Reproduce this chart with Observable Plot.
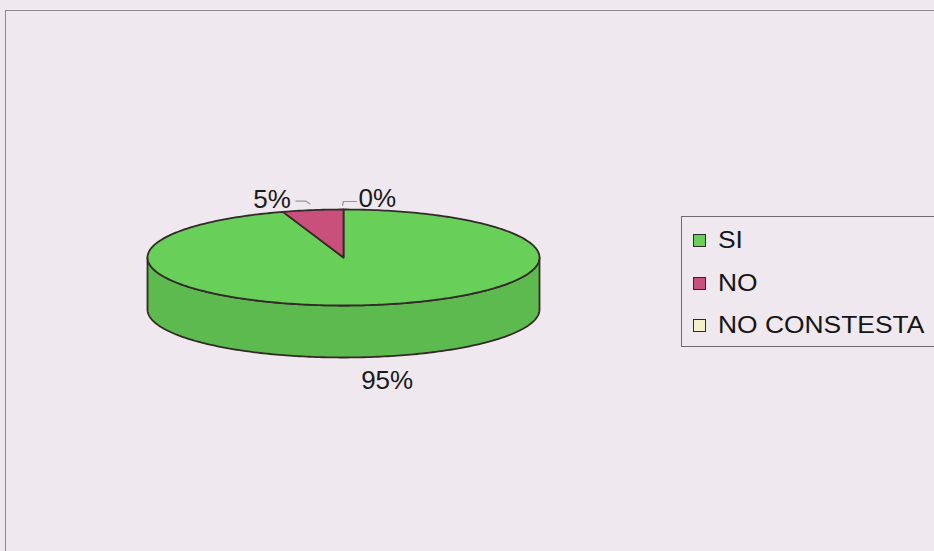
<!DOCTYPE html>
<html>
<head>
<meta charset="utf-8">
<script src="https://cdn.jsdelivr.net/npm/d3@7"></script>
<script src="https://cdn.jsdelivr.net/npm/@observablehq/plot@0.6"></script>
<style>
  html, body { margin: 0; padding: 0; background: #efe8ef; width: 934px; height: 551px; overflow: hidden; }
  body { position: relative; font-family: "Liberation Sans", Arial, sans-serif; }
  #frame { position: absolute; left: 5px; top: 10px; width: 940px; height: 560px;
           border-top: 1.5px solid #8c8890; border-left: 1.5px solid #8c8890; }
  #chart { position: absolute; left: 0; top: 0; }
  #legend { position: absolute; left: 681px; top: 216px; width: 270px; height: 131px;
            border: 1px solid #6e6a70; box-sizing: border-box; }
  .item { position: absolute; left: 11px; height: 30px; font-size: 24px; color: #151515; white-space: nowrap; }
  .sw { position: absolute; left: 0; width: 11px; height: 11px; border: 1.3px solid #2a2a2a; top: 9px; }
  .lab { position: absolute; left: 25px; top: 0; line-height: 30px; transform: scaleX(1.1); transform-origin: left center; }
</style>
</head>
<body>
<div id="frame"></div>
<div id="chart"></div>
<div id="legend"></div>
<script>
// ---- data ----
const categories = ["SI", "NO", "NO CONSTESTA"];
const values = [95, 5, 0];
const labels = ["95%", "5%", "0%"];
const colors = ["#68cf58", "#c9507a", "#f4f0cc"];

// ---- geometry (unit ellipse, depth in y-units) ----
const rx = 196, ry = 48;      // pixel half-axes of the unit ellipse
const depth = 52 / ry;
const pie = d3.pie().sort(null).value(d => d.value)
  .startAngle(0).endAngle(2 * Math.PI);
const table = categories.map((c, i) => ({cat: c, value: values[i], label: labels[i], color: colors[i]}));
const arcs = pie(table);

const px = a => Math.sin(a);
const py = a => -Math.cos(a);
function arcPts(a0, a1, dy) {
  const n = Math.max(2, Math.ceil(Math.abs(a1 - a0) / (Math.PI / 180)));
  const pts = [];
  for (let k = 0; k <= n; k++) {
    const a = a0 + (a1 - a0) * k / n;
    pts.push([px(a), py(a) + dy]);
  }
  return pts;
}

const tops = [], sides = [];
arcs.forEach((s, i) => {
  if (s.endAngle - s.startAngle <= 0) return;
  const pts = [[0, 0], ...arcPts(s.startAngle, s.endAngle, 0)];
  pts.forEach(p => tops.push({x: p[0], y: p[1], id: i, fill: s.data.color}));
  const a0 = Math.max(s.startAngle, Math.PI / 2), a1 = Math.min(s.endAngle, 3 * Math.PI / 2);
  if (a1 > a0) {
    const sp = [...arcPts(a0, a1, 0), ...arcPts(a1, a0, depth)];
    const c = d3.color(s.data.color).darker(0.3).formatHex();
    sp.forEach(p => sides.push({x: p[0], y: p[1], id: i, fill: c}));
  }
});

// labels + leader lines, placed from each slice's mid-angle
const off = (x, y, dxp, dyp) => ({x: x + dxp / rx, y: y + dyp / ry});
const labelData = [], leaders = [];
arcs.forEach((s, i) => {
  const m = (s.startAngle + s.endAngle) / 2;
  const x = px(m), y = py(m);
  if (y < 0) {
    const left = x < -0.01;
    const p = off(x, y, left ? -22 : 15, -2.5);
    labelData.push({...p, text: s.data.label, anchor: left ? "end" : "start"});
    const pts = left ? [[-3, -6], [-7, -9], [-17, -9]] : [[-1, -4], [0, -8], [13, -8]];
    pts.forEach(([a, b]) => leaders.push({...off(x, y, a, b), id: i}));
  } else {
    const p = off(x, y + depth, 13, 32);
    labelData.push({...p, text: s.data.label, anchor: "middle"});
  }
});

const chart = Plot.plot({
  width: 934, height: 551,
  margin: 0,
  x: {axis: null, domain: [-1, 1], range: [147, 539]},
  y: {axis: null, domain: [-1, 1], range: [209, 305]},
  color: {type: "identity"},
  style: {background: "transparent", fontFamily: "'Liberation Sans', Arial, sans-serif"},
  marks: [
    Plot.line(sides, {x: "x", y: "y", z: "id", fill: "fill", stroke: "#352a2a", strokeWidth: 1.8, curve: "linear-closed"}),
    Plot.line(tops, {x: "x", y: "y", z: "id", fill: "fill", stroke: "#352a2a", strokeWidth: 1.8, curve: "linear-closed"}),
    Plot.line(leaders, {x: "x", y: "y", z: "id", stroke: "#9a949a", strokeWidth: 1.2}),
    ...["start", "end", "middle"].map(a =>
      Plot.text(labelData.filter(d => d.anchor === a), {x: "x", y: "y", text: "text", textAnchor: a,
        fontSize: 26, fill: "#1a1a1a", lineAnchor: "bottom"}))
  ]
});
document.getElementById("chart").appendChild(chart);

// legend
const legend = document.getElementById("legend");
const itemTops = [8, 51, 93];
categories.forEach((c, i) => {
  const it = document.createElement("div");
  it.className = "item";
  it.style.top = itemTops[i] + "px";
  it.innerHTML = `<div class="sw" style="background:${colors[i]}"></div><div class="lab">${c}</div>`;
  legend.appendChild(it);
});
</script>
</body>
</html>
